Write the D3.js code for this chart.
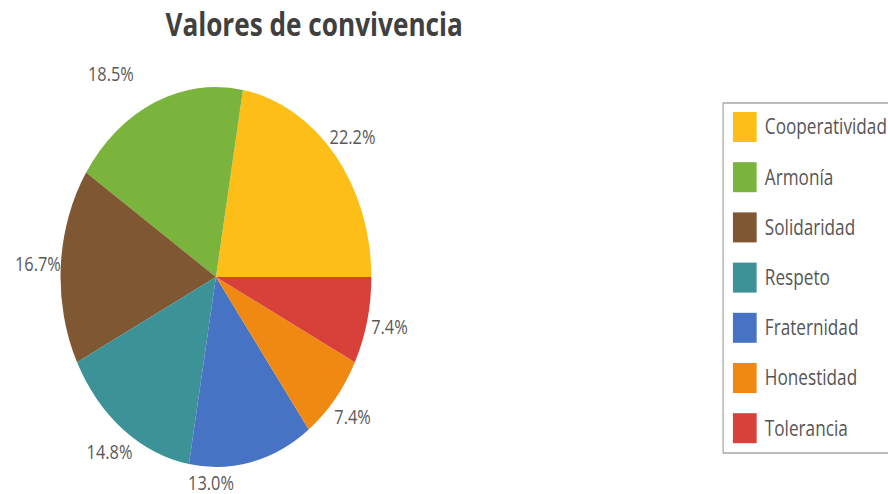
<!DOCTYPE html>
<meta charset="utf-8">
<script src="https://d3js.org/d3.v7.js"></script>
<style>
  body { margin: 0; background: #fff; }
  text { font-family: "Open Sans", sans-serif; }
</style>
<div id="chart"></div>

<script>

var categories = ["Cooperatividad", "Armonía", "Solidaridad", "Respeto", "Fraternidad", "Honestidad", "Tolerancia"];
var counts = [12, 10, 9, 8, 7, 4, 4];
var labels = ["22.2%", "18.5%", "16.7%", "14.8%", "13.0%", "7.4%", "7.4%"];
var colors = ["#fdbf17", "#7ab43d", "#7f5733", "#3c9297", "#4673c3", "#f08912", "#d8403a"];

var title = "Valores de convivencia";

// the picture is squeezed sideways, so draw in wide space and scale x
var sx = 0.818,
    width = 888, height = 494,
    innerW = width / sx;

var cx = 264, cy = 277, r = 190;

var svg = d3.select("#chart")
  .append("svg")
    .attr("width", width)
    .attr("height", height);

var g = svg.append("g")
    .attr("transform", "scale(" + sx + ",1)");

g.append("text")
    .attr("x", 384)
    .attr("y", 36)
    .attr("text-anchor", "middle")
    .attr("font-size", 32)
    .attr("font-weight", "bold")
    .attr("fill", "#404040")
    .text(title);

var data = categories.map(function(c, i) {
  return {name: c, value: counts[i], label: labels[i], color: colors[i]};
});

// counter-clockwise from 3 o'clock
var pie = d3.pie()
    .sort(null)
    .value(function(d) { return d.value; })
    .startAngle(Math.PI / 2)
    .endAngle(Math.PI / 2 - 2 * Math.PI);

var arc = d3.arc().innerRadius(0).outerRadius(r);

var slices = pie(data);

var pieG = g.append("g")
    .attr("transform", "translate(" + cx + "," + cy + ")");

pieG.selectAll("path")
  .data(slices)
  .enter()
  .append("path")
    .attr("d", arc)
    .attr("fill", function(d) { return d.data.color; });

// a couple of labels sit off their slice middle in the original
var nudge = {"Armonía": [-9, 22], "Fraternidad": [15, -12]};

pieG.selectAll(".lbl")
  .data(slices)
  .enter()
  .append("text")
    .attr("class", "lbl")
    .attr("text-anchor", "middle")
    .attr("dy", "0.35em")
    .attr("font-size", 20)
    .attr("fill", "#595959")
    .attr("x", function(d) {
      var n = nudge[d.data.name] || [0, 0];
      var a = (d.startAngle + d.endAngle) / 2 + n[0] * Math.PI / 180;
      return Math.sin(a) * (r + 28 + n[1]);
    })
    .attr("y", function(d) {
      var n = nudge[d.data.name] || [0, 0];
      var a = (d.startAngle + d.endAngle) / 2 + n[0] * Math.PI / 180;
      return -Math.cos(a) * (r + 28 + n[1]);
    })
    .text(function(d) { return d.data.label; });

// legend
var lx = 884, ly = 103, rowH = 50.2;

var legend = g.append("g")
    .attr("transform", "translate(" + lx + "," + ly + ")");

legend.append("rect")
    .attr("x", 0)
    .attr("y", 0)
    .attr("width", 260)
    .attr("height", 350)
    .attr("fill", "#fff")
    .attr("stroke", "#a6a6a6")
    .attr("stroke-width", 1.5);

var item = legend.selectAll(".item")
  .data(data)
  .enter()
  .append("g")
    .attr("class", "item")
    .attr("transform", function(d, i) { return "translate(0," + (24 + i * rowH) + ")"; });

item.append("rect")
    .attr("x", 12)
    .attr("y", -15)
    .attr("width", 29)
    .attr("height", 30)
    .attr("fill", function(d) { return d.color; });

item.append("text")
    .attr("x", 51)
    .attr("dy", "0.35em")
    .attr("font-size", 21)
    .attr("fill", "#555")
    .text(function(d) { return d.name; });

</script>
